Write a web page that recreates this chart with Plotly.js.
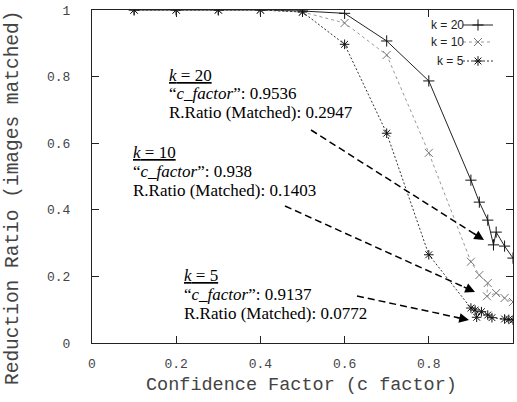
<!DOCTYPE html>
<html><head><meta charset="utf-8">
<script src="https://cdn.plot.ly/plotly-3.0.1.min.js"></script>
<style>html,body{margin:0;padding:0;background:#fff}</style>
</head><body><div id="chart" style="width:517px;height:402px"></div>
<script>
// ---- data ----
const seriesNames = ["k = 20", "k = 10", "k = 5"];
const x20 = [0.1, 0.2, 0.3, 0.4, 0.5, 0.6, 0.7, 0.8, 0.9, 0.92, 0.94, 0.9536, 0.96, 0.98, 1.0];
const y20 = [1, 1, 1, 1, 0.997, 0.99, 0.907, 0.787, 0.489, 0.423, 0.369, 0.2947, 0.333, 0.291, 0.255];
const x10 = [0.1, 0.2, 0.3, 0.4, 0.5, 0.6, 0.7, 0.8, 0.9, 0.92, 0.94, 0.938, 0.96, 0.98, 1.0];
const y10 = [1, 1, 1, 1, 0.994, 0.961, 0.865, 0.571, 0.244, 0.204, 0.18, 0.1403, 0.15, 0.135, 0.123];
const x5 = [0.1, 0.2, 0.3, 0.4, 0.5, 0.6, 0.7, 0.8, 0.9, 0.91, 0.9137, 0.925, 0.94, 0.95, 0.98, 0.99, 1.0];
const y5 = [1, 1, 1, 1, 0.994, 0.897, 0.63, 0.265, 0.105, 0.099, 0.0772, 0.094, 0.084, 0.076, 0.072, 0.071, 0.069];
const tickVals = [0, 0.2, 0.4, 0.6, 0.8, 1];
const tickText = ["0", "0.2", "0.4", "0.6", "0.8", "1"];
const xTitle = "Confidence Factor (c factor)";
const yTitle = "Reduction Ratio (images matched)";
const calloutHead = ["<span style=\"text-decoration:underline\"><i>k</i> = 20</span>",
                     "<span style=\"text-decoration:underline\"><i>k</i> = 10</span>",
                     "<span style=\"text-decoration:underline\"><i>k</i> = 5</span>"];
const calloutCF = ["0.9536", "0.938", "0.9137"];
const calloutRR = ["0.2947", "0.1403", "0.0772"];

// ---- geometry helpers (pixel -> data) ----
const PL = 92, PR = 513, PT = 10, PB = 343;
const px = p => (p - PL) / (PR - PL);
const py = p => (PB - p) / (PB - PT);

const traces = [
  {x: x20, y: y20, name: seriesNames[0], mode: "lines+markers", type: "scatter",
   line: {color: "#222", width: 1},
   marker: {symbol: "cross-thin", size: 8, line: {color: "#111", width: 1}}},
  {x: x10, y: y10, name: seriesNames[1], mode: "lines+markers", type: "scatter",
   line: {color: "#999", width: 1, dash: "dot"},
   marker: {symbol: "x-thin", size: 8, line: {color: "#777", width: 1}}},
  {x: x5, y: y5, name: seriesNames[2], mode: "lines+markers", type: "scatter",
   line: {color: "#333", width: 1, dash: "2px,2px"},
   marker: {symbol: "asterisk", size: 8, line: {color: "#111", width: 1}}}
];

// callout text lines
const blockX = [168, 132, 183];
const blockY = [[75, 93.5, 112], [152, 171, 190], [275, 294, 313]];
const annotations = [];
const serif = {family: "Liberation Serif", size: 17, color: "#000"};
for (let i = 0; i < 3; i++) {
  const lines = [calloutHead[i], "\u201c<i>c_factor</i>\u201d: " + calloutCF[i], "R.Ratio (Matched): " + calloutRR[i]];
  lines.forEach((t, j) => annotations.push({
    x: px(blockX[i]), y: py(blockY[i][j]), xref: "x", yref: "y",
    text: t, showarrow: false, xanchor: "left", yanchor: "middle", font: serif, borderpad: 0
  }));
}
// arrows (dashed body + filled head)
const arrows = [[311, 130, 484, 240], [285, 206, 475, 292], [357, 296, 469, 320]];
const shapes = [];
arrows.forEach(a => {
  const [x0, y0, x1, y1] = a;
  const L = Math.hypot(x1 - x0, y1 - y0);
  const ux = (x1 - x0) / L, uy = (y1 - y0) / L;
  shapes.push({type: "line", xref: "x", yref: "y",
    x0: px(x0), y0: py(y0), x1: px(x1 - ux * 10), y1: py(y1 - uy * 10),
    line: {color: "#000", width: 1.5, dash: "7px,4px"}});
  annotations.push({x: px(x1), y: py(y1), ax: px(x1 - ux * 14), ay: py(y1 - uy * 14),
    xref: "x", yref: "y", axref: "x", ayref: "y", text: "", showarrow: true,
    arrowhead: 2, arrowsize: 1.3, arrowwidth: 1.5, arrowcolor: "#000"});
});
// legend labels (text sits left of the legend samples, as in the reference)
const legY = [25, 42, 61];
seriesNames.forEach((n, i) => annotations.push({
  x: px(466), y: py(legY[i]), xref: "paper", yref: "paper", text: n, showarrow: false,
  xanchor: "right", yanchor: "middle", font: {family: "Liberation Sans", size: 12, color: "#222"}
}));
// axis titles as annotations (placed as in the reference)
const mono = {family: "Liberation Mono", color: "#444"};
annotations.push({x: px(301), y: py(385), xref: "paper", yref: "paper", text: xTitle, showarrow: false,
  xanchor: "center", yanchor: "middle", font: Object.assign({size: 18.5}, mono)});
annotations.push({x: px(13), y: py(198), xref: "paper", yref: "paper", text: yTitle, showarrow: false,
  textangle: -90, xanchor: "center", yanchor: "middle", font: Object.assign({size: 19.5}, mono)});

const axisCommon = {
  range: [0, 1], showgrid: false, zeroline: false, showline: true, linecolor: "#222", linewidth: 1,
  mirror: "ticks", ticks: "inside", ticklen: 7, tickcolor: "#222", tickwidth: 1,
  tickvals: tickVals, ticktext: tickText,
  tickfont: {family: "Liberation Mono", size: 13, color: "#444"}
};
const legendKeys = ["legend", "legend2", "legend3"];
const layout = {
  width: 517, height: 402,
  margin: {l: PL, r: 517 - PR, t: PT, b: 402 - PB},
  paper_bgcolor: "#fff", plot_bgcolor: "#fff",
  showlegend: true,
  xaxis: Object.assign({}, axisCommon, {ticklabelstandoff: 8}),
  yaxis: Object.assign({}, axisCommon, {ticklabelstandoff: 18}),
  annotations: annotations, shapes: shapes
};
// one tiny legend per series, each showing only its sample; names drawn as annotations
legendKeys.forEach((k, i) => {
  layout[k] = {x: px(458), y: py(legY[i]), xanchor: "left", yanchor: "middle",
    bgcolor: "rgba(0,0,0,0)", font: {family: "Liberation Sans", size: 9, color: "#222"},
    itemwidth: 30, borderwidth: 0};
});
const legendTraces = traces.map((t, i) => Object.assign({}, t, {name: " ", legend: legendKeys[i]}));
Plotly.newPlot("chart", legendTraces, layout, {staticPlot: true, displayModeBar: false});
</script></body></html>
